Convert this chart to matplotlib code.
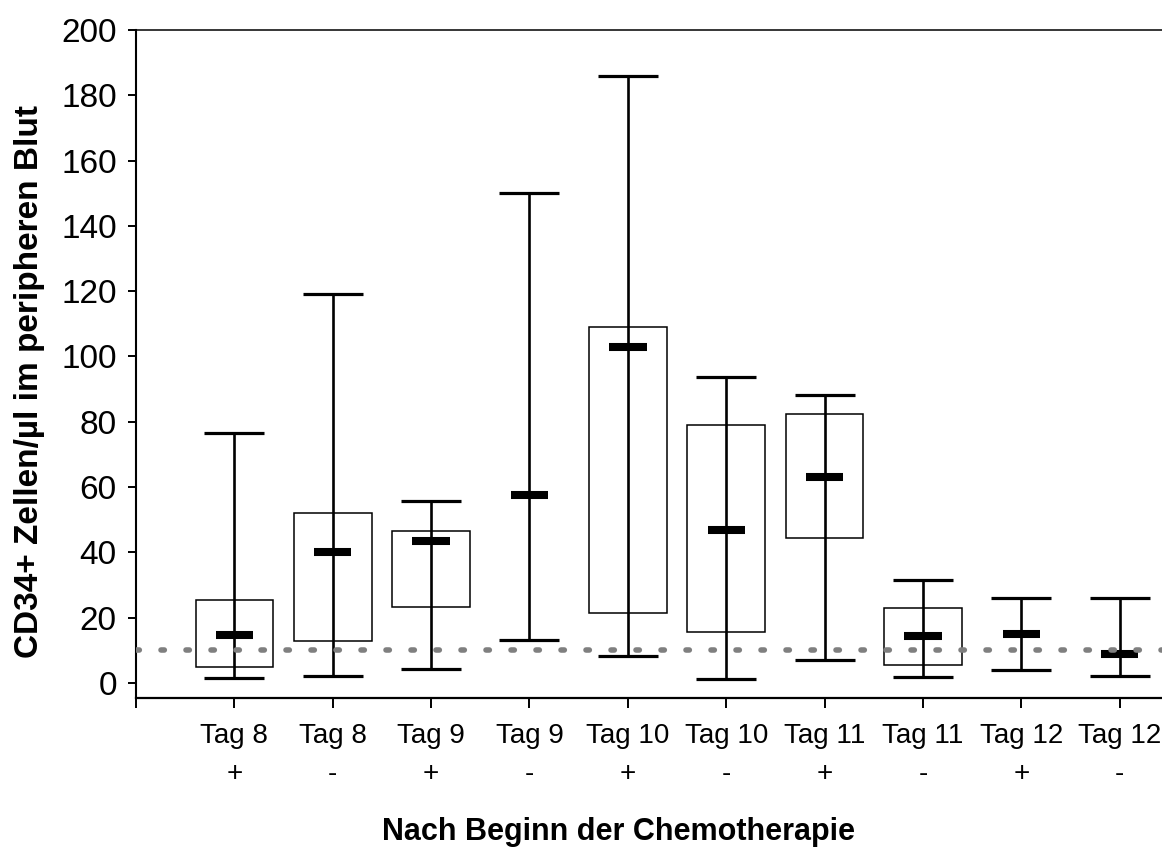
import matplotlib
matplotlib.use('Agg')
import matplotlib.pyplot as plt
from matplotlib.patches import Rectangle

plt.rcParams['font.family'] = ['Liberation Sans', 'DejaVu Sans']

# ── Data ──────────────────────────────────────────────────────────
labels = ['Tag 8\n+', 'Tag 8\n-', 'Tag 9\n+', 'Tag 9\n-', 'Tag 10\n+',
          'Tag 10\n-', 'Tag 11\n+', 'Tag 11\n-', 'Tag 12\n+', 'Tag 12\n-']
w_max  = [76.5, 119.0, 55.7, 150.0, 186.0, 93.8, 88.3, 31.5, 26.1, 26.1]
q3     = [25.5, 52.1, 46.5, None, 109.0, 79.1, 82.3, 23.1, None, None]
median = [14.8, 40.0, 43.4, 57.6, 102.8, 46.8, 63.0, 14.5, 15.1, 9.0]
q1     = [4.8, 13.0, 23.3, None, 21.4, 15.6, 44.4, 5.6, None, None]
w_min  = [1.6, 2.2, 4.3, 13.2, 8.3, 1.2, 7.0, 1.8, 4.0, 2.2]
threshold = 10

BOX_W = 0.79
CAP_W = 0.61
MED_W = 0.38

fig = plt.figure(figsize=(11.62, 8.47), dpi=100)
ax = fig.add_axes([136 / 1162, 1 - 698 / 847, 1 - 136 / 1162, (698 - 30) / 847])

positions = list(range(1, len(labels) + 1))
for x, hi, b_hi, med, b_lo, lo in zip(positions, w_max, q3, median, q1, w_min):
    # whisker (runs through the box)
    ax.vlines(x, lo, hi, color='black', lw=1.9, zorder=2)
    ax.hlines([lo, hi], x - CAP_W / 2, x + CAP_W / 2, color='black', lw=2.3, zorder=2)
    if b_hi is not None:
        ax.add_patch(Rectangle((x - BOX_W / 2, b_lo), BOX_W, b_hi - b_lo,
                               fill=False, ec='black', lw=1.1, zorder=3))
    ax.hlines(med, x - MED_W / 2, x + MED_W / 2, color='black', lw=5.8,
              capstyle='butt', zorder=4)

# threshold line
ax.axhline(threshold, color='#7f7f7f', lw=4, dashes=(0.6, 3.9),
           dash_capstyle='round', zorder=5)

ax.set_xlim(0, 10.43)
ax.set_ylim(-4.6, 200)
ax.set_yticks(range(0, 201, 20))
ax.set_xticks(range(0, len(labels) + 1))
ax.set_xticklabels([''] + labels, linespacing=1.6)

ax.tick_params(axis='y', direction='out', length=5.8, width=1.4, pad=8,
               labelsize=24)
ax.tick_params(axis='x', direction='out', length=7, width=1.4, pad=11,
               labelsize=20)

ax.spines['right'].set_visible(False)
ax.spines['top'].set_linewidth(1.1)
ax.spines['left'].set_linewidth(1.5)
ax.spines['bottom'].set_linewidth(1.6)

fig.text(30 / 1162, 1 - 382 / 847, 'CD34+ Zellen/µl im peripheren Blut',
         rotation=90, ha='center', va='center', fontsize=24, fontweight='bold')
fig.text(619 / 1162, 1 - 840 / 847, 'Nach Beginn der Chemotherapie',
         ha='center', va='baseline', fontsize=22, fontweight='bold')

plt.savefig('out.png', dpi=100)
plt.close()
